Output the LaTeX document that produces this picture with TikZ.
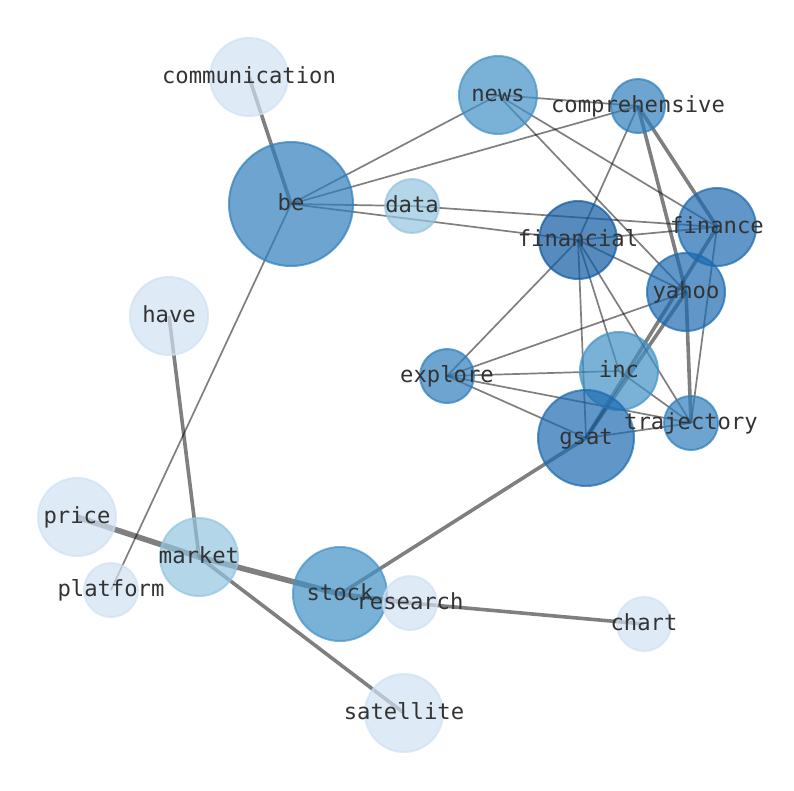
\documentclass[tikz,border=0pt]{standalone}
\usepackage{fontspec}
\newfontfamily\labelfont{DejaVu Sans Mono}
\definecolor{bluea}{RGB}{208,225,242}
\definecolor{blueb}{RGB}{148,196,223}
\definecolor{bluec}{RGB}{66,146,198}
\definecolor{blued}{RGB}{47,126,188}
\definecolor{bluee}{RGB}{28,106,176}
\definecolor{bluef}{RGB}{15,90,163}
\definecolor{labelgray}{RGB}{51,51,51}
\pgfdeclarelayer{edges}
\pgfsetlayers{edges,main}

\begin{document}
\begin{tikzpicture}[line cap=round,line join=round,x=1pt,y=-1pt,
	nd/.style 2 args={circle,inner sep=0pt,outer sep=0pt,minimum size=#1,line width=2pt,fill=#2,draw=#2,fill opacity=0.7,draw opacity=0.7},
	edge/.style={draw=black,draw opacity=0.5,line width=1.7pt},
	heavy/.style={edge,line width=3.6pt},
	lbl/.style={font=\labelfont\fontsize{22.2}{26}\selectfont,text=labelgray,anchor=mid,inner sep=0pt,yshift=-4pt}]
			\useasboundingbox (0,0) rectangle (794,790);
			\node [nd={78pt}{bluea}] (communication) at (249,77) {};
			\node [nd={124pt}{blued}] (be) at (291,204) {};
			\node [nd={78pt}{bluec}] (news) at (498,95) {};
			\node [nd={54pt}{blued}] (comprehensive) at (638,106) {};
			\node [nd={54pt}{blueb}] (data) at (412,206) {};
			\node [nd={78pt}{bluef}] (financial) at (578,240) {};
			\node [nd={78pt}{bluee}] (finance) at (717,227) {};
			\node [nd={78pt}{bluee}] (yahoo) at (686,292) {};
			\node [nd={78pt}{bluea}] (have) at (169,316) {};
			\node [nd={54pt}{blued}] (explore) at (447,376) {};
			\node [nd={78pt}{bluec}] (inc) at (619,371) {};
			\node [nd={96pt}{bluee}] (gsat) at (586,438) {};
			\node [nd={54pt}{blued}] (trajectory) at (691,423) {};
			\node [nd={78pt}{bluea}] (price) at (77,517) {};
			\node [nd={78pt}{blueb}] (market) at (199,557) {};
			\node [nd={54pt}{bluea}] (platform) at (111,590) {};
			\node [nd={94pt}{bluec}] (stock) at (340,594) {};
			\node [nd={54pt}{bluea}] (research) at (410,603) {};
			\node [nd={54pt}{bluea}] (chart) at (644,624) {};
			\node [nd={78pt}{bluea}] (satellite) at (404,713) {};
			% edges go under the circles
			\begin{pgfonlayer}{edges}
				\draw [heavy] (communication.center)-- (be.center);
				\draw [edge] (be.center)-- (news.center);
				\draw [edge] (be.center)-- (comprehensive.center);
				\draw [edge] (be.center)-- (data.center);
				\draw [edge] (be.center)-- (financial.center);
				\draw [edge] (be.center)-- (platform.center);
				\draw [edge] (data.center)-- (finance.center);
				\draw [edge] (news.center)-- (comprehensive.center);
				\draw [edge] (news.center)-- (finance.center);
				\draw [edge] (news.center)-- (yahoo.center);
				\draw [edge] (comprehensive.center)-- (financial.center);
				\draw [heavy] (comprehensive.center)-- (finance.center);
				\draw [heavy] (comprehensive.center)-- (yahoo.center);
				\draw [edge] (financial.center)-- (finance.center);
				\draw [edge] (financial.center)-- (yahoo.center);
				\draw [edge] (financial.center)-- (explore.center);
				\draw [edge] (financial.center)-- (gsat.center);
				\draw [edge] (financial.center)-- (inc.center);
				\draw [edge] (financial.center)-- (trajectory.center);
				\draw [heavy] (finance.center)-- (gsat.center);
				\draw [edge] (finance.center)-- (trajectory.center);
				\draw [heavy] (yahoo.center)-- (gsat.center);
				\draw [heavy] (yahoo.center)-- (trajectory.center);
				\draw [edge] (yahoo.center)-- (explore.center);
				\draw [edge] (explore.center)-- (inc.center);
				\draw [edge] (explore.center)-- (trajectory.center);
				\draw [edge] (explore.center)-- (gsat.center);
				\draw [edge] (inc.center)-- (trajectory.center);
				\draw [edge] (gsat.center)-- (trajectory.center);
				\draw [heavy] (gsat.center)-- (stock.center);
				\draw [edge,line width=5.6pt] (stock.center)-- (market.center);
				\draw [edge,line width=4.6pt] (stock.center)-- (research.center);
				\draw [heavy] (research.center)-- (chart.center);
				\draw [edge,line width=5.6pt] (market.center)-- (price.center);
				\draw [heavy] (market.center)-- (have.center);
				\draw [heavy] (market.center)-- (satellite.center);
			\end{pgfonlayer}
			% labels on top
			\node [lbl] (communication-t) at (communication.center) {communication};
			\node [lbl] (be-t) at (be.center) {be};
			\node [lbl] (news-t) at (news.center) {news};
			\node [lbl] (comprehensive-t) at (comprehensive.center) {comprehensive};
			\node [lbl] (data-t) at (data.center) {data};
			\node [lbl] (financial-t) at (financial.center) {financial};
			\node [lbl] (finance-t) at (finance.center) {finance};
			\node [lbl] (yahoo-t) at (yahoo.center) {yahoo};
			\node [lbl] (have-t) at (have.center) {have};
			\node [lbl] (explore-t) at (explore.center) {explore};
			\node [lbl] (inc-t) at (inc.center) {inc};
			\node [lbl] (gsat-t) at (gsat.center) {gsat};
			\node [lbl] (trajectory-t) at (trajectory.center) {trajectory};
			\node [lbl] (price-t) at (price.center) {price};
			\node [lbl] (market-t) at (market.center) {market};
			\node [lbl] (platform-t) at (platform.center) {platform};
			\node [lbl] (stock-t) at (stock.center) {stock};
			\node [lbl] (research-t) at (research.center) {research};
			\node [lbl] (chart-t) at (chart.center) {chart};
			\node [lbl] (satellite-t) at (satellite.center) {satellite};
		\end{tikzpicture}
\end{document}
